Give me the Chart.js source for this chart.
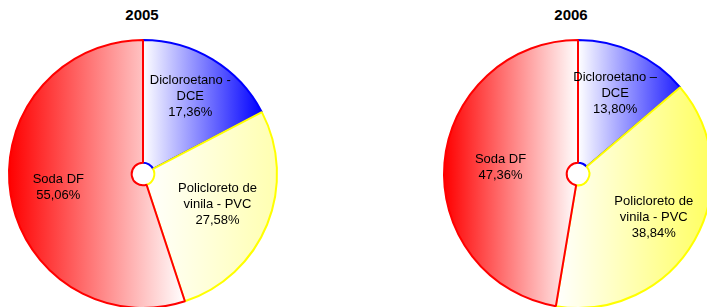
<!DOCTYPE html>
<html lang="pt-BR">
<head>
    <meta charset="UTF-8">
    <title>2005 / 2006</title>
    <script src="https://cdn.jsdelivr.net/npm/chart.js"></script>
    <style>
        html, body { margin: 0; padding: 0; background: #fff; overflow: hidden; width: 707px; height: 307px; }
        .box { position: absolute; top: 0; width: 286px; height: 348px; }
        .title { position: absolute; top: 6px; width: 80px; text-align: center;
                 font: bold 15px "Liberation Sans", Arial, sans-serif; color: #000; }
    </style>
</head>
<body>
    <div class="title" style="left: 102px;">2005</div>
    <div class="title" style="left: 531px;">2006</div>
    <div class="box" style="left: 0px;"><canvas id="chart2005" width="286" height="348"></canvas></div>
    <div class="box" style="left: 435px;"><canvas id="chart2006" width="286" height="348"></canvas></div>

    <script>
        // dados
        const categories = ['Dicloroetano - DCE', 'Policloreto de vinila - PVC', 'Soda DF'];
        const values2005 = [17.36, 27.58, 55.06];
        const values2006 = [13.80, 38.84, 47.36];
        const names2005 = [['Dicloroetano -', 'DCE'], ['Policloreto de', 'vinila - PVC'], ['Soda DF']];
        const names2006 = [['Dicloroetano \u2013', 'DCE'], ['Policloreto de', 'vinila - PVC'], ['Soda DF']];

        const borderColors = ['#0000ff', '#ffff00', '#ff0000'];
        const RADIUS = 134;

        // gradiente horizontal sobre a caixa de cada fatia
        function sliceGradient(ctx, stops) {
            const chart = ctx.chart;
            const area = chart.chartArea;
            if (!area) return stops[1];
            const data = ctx.dataset.data;
            const total = data.reduce((a, b) => a + b, 0);
            let before = 0;
            for (let i = 0; i < ctx.dataIndex; i++) before += data[i];
            const a0 = before / total * Math.PI * 2;
            const a1 = (before + data[ctx.dataIndex]) / total * Math.PI * 2;
            const cx = (area.left + area.right) / 2;
            const xs = [cx, cx + RADIUS * Math.sin(a0), cx + RADIUS * Math.sin(a1)];
            if (a0 <= Math.PI / 2 && a1 >= Math.PI / 2) xs.push(cx + RADIUS);
            if (a0 <= Math.PI * 1.5 && a1 >= Math.PI * 1.5) xs.push(cx - RADIUS);
            const g = chart.ctx.createLinearGradient(Math.min(...xs), 0, Math.max(...xs), 0);
            g.addColorStop(0, stops[0]);
            g.addColorStop(1, stops[1]);
            return g;
        }

        const sliceLabels = {
            id: 'sliceLabels',
            afterDatasetsDraw(chart, args, opts) {
                const c = chart.ctx;
                const meta = chart.getDatasetMeta(0);
                const values = chart.data.datasets[0].data;
                c.save();
                c.fillStyle = '#000';
                c.font = '13px "Liberation Sans", Arial, sans-serif';
                c.textAlign = 'center';
                c.textBaseline = 'middle';
                meta.data.forEach((arc, i) => {
                    const p = arc.getProps(['x', 'y', 'startAngle', 'endAngle', 'outerRadius'], true);
                    const mid = (p.startAngle + p.endAngle) / 2;
                    const k = opts.dist[i];
                    const lx = p.x + Math.cos(mid) * p.outerRadius * k;
                    const ly = p.y + Math.sin(mid) * p.outerRadius * k;
                    const lines = opts.names[i].concat([values[i].toFixed(2).replace('.', ',') + '%']);
                    const top = ly - (lines.length - 1) * 16 / 2;
                    lines.forEach((t, j) => c.fillText(t, lx, top + j * 16));
                });
                c.restore();
            }
        };

        function makePie(id, values, names, fills, dist) {
            new Chart(document.getElementById(id), {
                type: 'doughnut',
                data: {
                    labels: categories,
                    datasets: [{
                        data: values,
                        backgroundColor: ctx => sliceGradient(ctx, fills[ctx.dataIndex]),
                        borderColor: borderColors,
                        borderWidth: 2
                    }]
                },
                options: {
                    responsive: false,
                    animation: false,
                    radius: RADIUS,
                    cutout: 12,
                    plugins: {
                        legend: { display: false },
                        tooltip: { enabled: false },
                        sliceLabels: { names: names, dist: dist }
                    }
                },
                plugins: [sliceLabels]
            });
        }

        makePie('chart2005', values2005, names2005,
            [['#ffffff', '#0000ff'], ['#ffffff', '#ffffb0'], ['#ff0000', '#ffffff']],
            [0.68, 0.6, 0.64]);
        makePie('chart2006', values2006, names2006,
            [['#ffffff', '#2020ff'], ['#ffffff', '#ffff60'], ['#ff0000', '#ffffff']],
            [0.66, 0.65, 0.58]);
    </script>
</body>
</html>
